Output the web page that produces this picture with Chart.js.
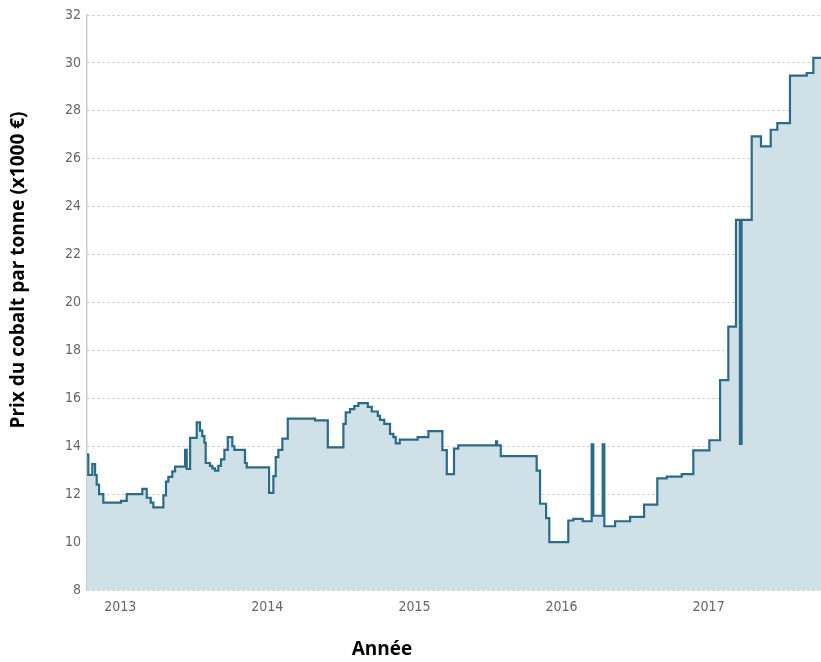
<!DOCTYPE html>
<html>
<head>
<meta charset="utf-8">
<script src="https://cdn.jsdelivr.net/npm/chart.js@4/dist/chart.umd.min.js"></script>
<style>
html,body{margin:0;padding:0;background:#fff;}
#wrap{width:821px;height:662px;}
</style>
</head>
<body>
<div id="wrap"><canvas id="c" width="821" height="662"></canvas></div>
<script>
// Dates as decimal years and cobalt price (x1000 € per tonne)
const dates = [
  2012.774, 2012.783, 2012.810, 2012.829, 2012.840, 2012.856, 2012.885,
  2013.005, 2013.044, 2013.150, 2013.180, 2013.207, 2013.225, 2013.293,
  2013.311, 2013.327, 2013.354, 2013.373, 2013.441, 2013.452, 2013.475,
  2013.520, 2013.542, 2013.558, 2013.572, 2013.581, 2013.610, 2013.626,
  2013.644, 2013.667, 2013.685, 2013.708, 2013.731, 2013.762, 2013.776,
  2013.848, 2013.860, 2014.012, 2014.041, 2014.057, 2014.075, 2014.102,
  2014.139, 2014.324, 2014.411, 2014.517, 2014.533, 2014.562, 2014.591,
  2014.619, 2014.683, 2014.710, 2014.751, 2014.766, 2014.795, 2014.834,
  2014.857, 2014.873, 2014.900, 2014.936, 2015.022, 2015.095, 2015.190,
  2015.220, 2015.269, 2015.298, 2015.555, 2015.562, 2015.587, 2015.831,
  2015.854, 2015.895, 2015.917, 2016.046, 2016.080, 2016.144, 2016.205,
  2016.216, 2016.280, 2016.291, 2016.364, 2016.466, 2016.561, 2016.651,
  2016.715, 2016.817, 2016.896, 2017.005, 2017.078, 2017.134, 2017.186,
  2017.213, 2017.224, 2017.293, 2017.356, 2017.422, 2017.467, 2017.553,
  2017.667, 2017.712, 2017.764
];
const prices = [
  13.65, 12.80, 13.25, 12.80, 12.40, 12.00, 11.65,
  11.72, 12.00, 12.22, 11.85, 11.65, 11.45, 11.95,
  12.52, 12.72, 12.95, 13.15, 13.85, 13.05, 14.35,
  15.00, 14.65, 14.42, 14.15, 13.30, 13.18, 13.08,
  12.98, 13.18, 13.45, 13.85, 14.38, 14.00, 13.85,
  13.30, 13.12, 12.05, 12.75, 13.55, 13.85, 14.32,
  15.15, 15.08, 13.95, 14.93, 15.41, 15.55, 15.68,
  15.80, 15.64, 15.45, 15.27, 15.10, 14.93, 14.52,
  14.38, 14.12, 14.28, 14.28, 14.38, 14.63, 13.84,
  12.84, 13.90, 14.04, 14.20, 14.04, 13.59, 12.98,
  11.60, 11.00, 10.00, 10.90, 10.97, 10.87, 14.08,
  11.10, 14.08, 10.66, 10.87, 11.05, 11.56, 12.66,
  12.73, 12.84, 13.83, 14.25, 16.76, 18.99, 23.45,
  14.10, 23.45, 26.93, 26.52, 27.21, 27.49, 29.47,
  29.58, 30.21, 30.21
];
const yearTicks = [2013, 2014, 2015, 2016, 2017];
const priceTicks = [8, 10, 12, 14, 16, 18, 20, 22, 24, 26, 28, 30, 32];
const yTitle = "Prix du cobalt par tonne (x1000 €)";
const xTitle = "Année";

const points = dates.map((d, i) => ({x: d, y: prices[i]}));

const titlesPlugin = {
  id: 'titles',
  afterDraw(chart) {
    const ctx = chart.ctx;
    ctx.save();
    ctx.fillStyle = '#000';
    ctx.font = 'bold 19px "Open Sans", "DejaVu Sans", sans-serif';
    ctx.textAlign = 'center';
    ctx.textBaseline = 'middle';
    ctx.fillText(xTitle, 382, 650);
    ctx.translate(19, 270);
    ctx.rotate(-Math.PI / 2);
    ctx.fillText(yTitle, 0, 0);
    ctx.restore();
  }
};

const bgPlugin = {
  id: 'bg',
  beforeDraw(chart) {
    const ctx = chart.ctx;
    ctx.save();
    ctx.fillStyle = '#fff';
    ctx.fillRect(0, 0, chart.width, chart.height);
    ctx.restore();
  }
};

const tickFont = {family: '"DejaVu Sans Condensed", "Liberation Sans Narrow", "Open Sans", sans-serif', size: 14};

new Chart(document.getElementById('c'), {
  type: 'line',
  data: {
    datasets: [{
      data: points,
      stepped: true,
      borderColor: '#2a6b89',
      borderWidth: 2.2,
      backgroundColor: '#d0e0e7',
      fill: 'start',
      pointRadius: 0,
      tension: 0
    }]
  },
  options: {
    responsive: false,
    animation: false,
    layout: {padding: {top: 15, right: 0, left: 0, bottom: 0}},
    plugins: {legend: {display: false}, tooltip: {enabled: false}},
    scales: {
      x: {
        type: 'linear',
        min: 2012.774,
        max: 2017.764,
        afterFit: s => { s.height = 72; },
        afterBuildTicks: s => { s.ticks = yearTicks.map(v => ({value: v})); },
        ticks: {
          color: '#666',
          font: tickFont,
          padding: 9,
          maxRotation: 0,
          callback: v => String(v)
        },
        grid: {display: false, drawTicks: false},
        border: {display: false}
      },
      y: {
        min: 8,
        max: 32,
        afterFit: s => { s.width = 87; },
        afterBuildTicks: s => { s.ticks = priceTicks.map(v => ({value: v})); },
        ticks: {
          color: '#666',
          font: tickFont,
          padding: 6,
          callback: v => String(v)
        },
        grid: {color: '#c2c2c2', lineWidth: 1, drawTicks: false},
        border: {display: true, color: '#cccccc', width: 1.5, dash: [2, 3]}
      }
    }
  },
  plugins: [bgPlugin, titlesPlugin]
});
</script>
</body>
</html>
